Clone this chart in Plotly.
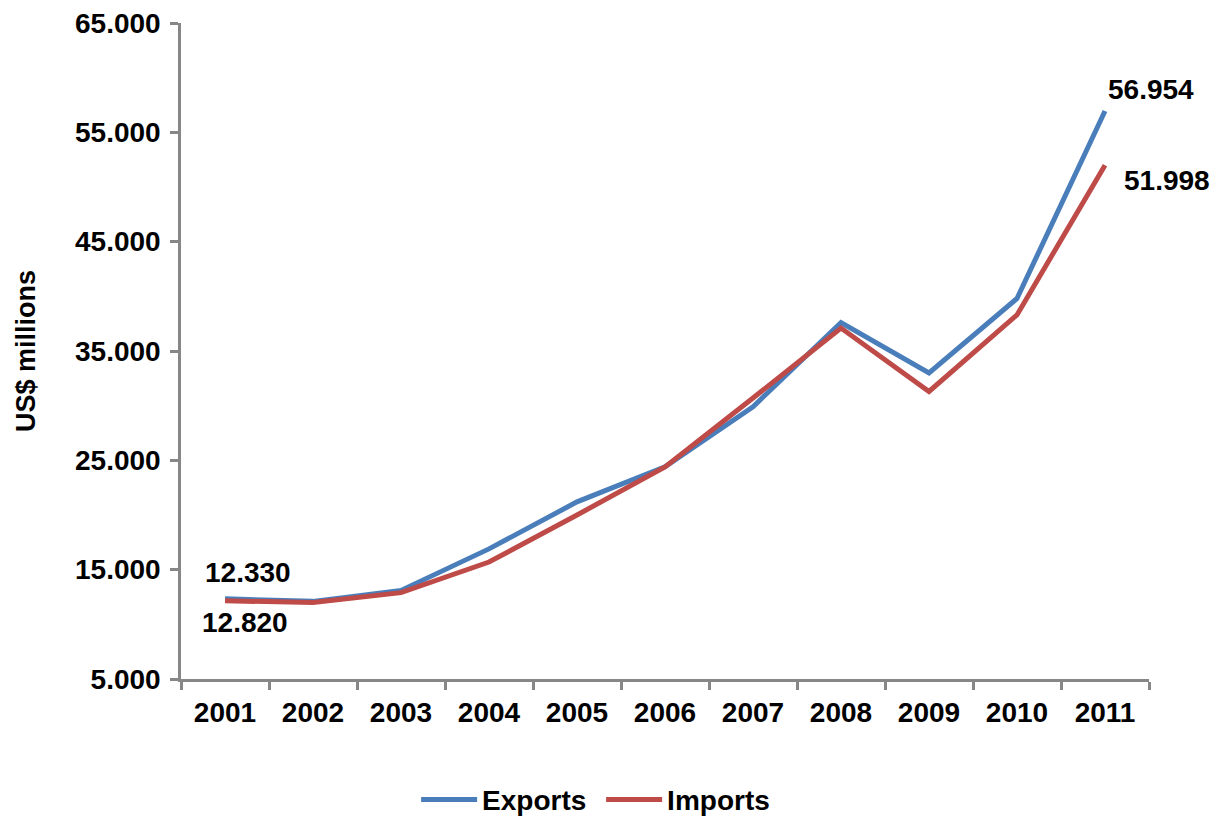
import plotly.graph_objects as go

years = ["2001", "2002", "2003", "2004", "2005", "2006", "2007", "2008", "2009", "2010", "2011"]
exports = [12330, 12100, 13100, 16900, 21200, 24400, 29900, 37600, 33000, 39800, 56954]
imports = [12150, 12000, 12900, 15700, 20000, 24400, 30700, 37100, 31300, 38300, 51998]
y_ticks = [5000, 15000, 25000, 35000, 45000, 55000, 65000]
y_tick_text = ["5.000", "15.000", "25.000", "35.000", "45.000", "55.000", "65.000"]
label_years = ["2001", "2011"]
label_exports = ["12.330", "56.954"]
label_imports = ["12.820", "51.998"]

FONT = "Liberation Sans, Arial, sans-serif"
BLUE = "#4A7EBB"
RED = "#BE4B48"
AXIS = "#878787"
FS = 28

fig = go.Figure()
fig.add_trace(go.Scatter(x=years, y=exports, mode="lines", name="Exports",
                         line=dict(color=BLUE, width=5)))
fig.add_trace(go.Scatter(x=years, y=imports, mode="lines", name="Imports",
                         line=dict(color=RED, width=5)))

lab_font = dict(family=FONT, size=FS, color="black", weight="bold")
shifts_exp = [(23, 26), (46, 21)]
shifts_imp = [(20, -22), (62, -15)]
annotations = []
for k, yr in enumerate(label_years):
    i = years.index(yr)
    annotations.append(dict(x=i, y=exports[i], xref="x", yref="y", text=label_exports[k],
                            showarrow=False, font=lab_font,
                            xshift=shifts_exp[k][0], yshift=shifts_exp[k][1]))
    annotations.append(dict(x=i, y=imports[i], xref="x", yref="y", text=label_imports[k],
                            showarrow=False, font=lab_font,
                            xshift=shifts_imp[k][0], yshift=shifts_imp[k][1]))

fig.update_layout(
    width=1217, height=816,
    margin=dict(l=181, r=68, t=23, b=137, autoexpand=False),
    paper_bgcolor="white", plot_bgcolor="white",
    font=dict(family=FONT, size=FS, color="black", weight="bold"),
    showlegend=True,
    annotations=annotations,
    legend=dict(orientation="h", x=0.434, xanchor="center", y=-0.184, yanchor="middle",
                font=dict(family=FONT, size=FS, color="black", weight="bold"),
                itemwidth=56, entrywidth=114, entrywidthmode="pixels", tracegroupgap=0),
    xaxis=dict(type="category", showgrid=False, zeroline=False, automargin=False,
               showline=True, linecolor=AXIS, linewidth=2.5,
               ticks="outside", tickson="boundaries", ticklen=8, tickcolor=AXIS, tickwidth=2.5,
               tickfont=dict(family=FONT, size=FS, color="black", weight="bold"),
               ticklabelstandoff=7, range=[-0.5, 10.5]),
    yaxis=dict(range=[5000, 65000], tickvals=y_ticks, ticktext=y_tick_text,
               showgrid=False, zeroline=False, automargin=False,
               showline=True, linecolor=AXIS, linewidth=2.5,
               ticks="outside", ticklen=8, tickcolor=AXIS, tickwidth=2.5,
               tickfont=dict(family=FONT, size=FS, color="black", weight="bold"),
               ticklabelstandoff=4,
               title=dict(text="US$ millions", standoff=32,
                          font=dict(family=FONT, size=27, color="black", weight="bold"))),
)

fig.write_html("out.html", config={"displayModeBar": False},
               post_script="document.body.style.margin='0';")
